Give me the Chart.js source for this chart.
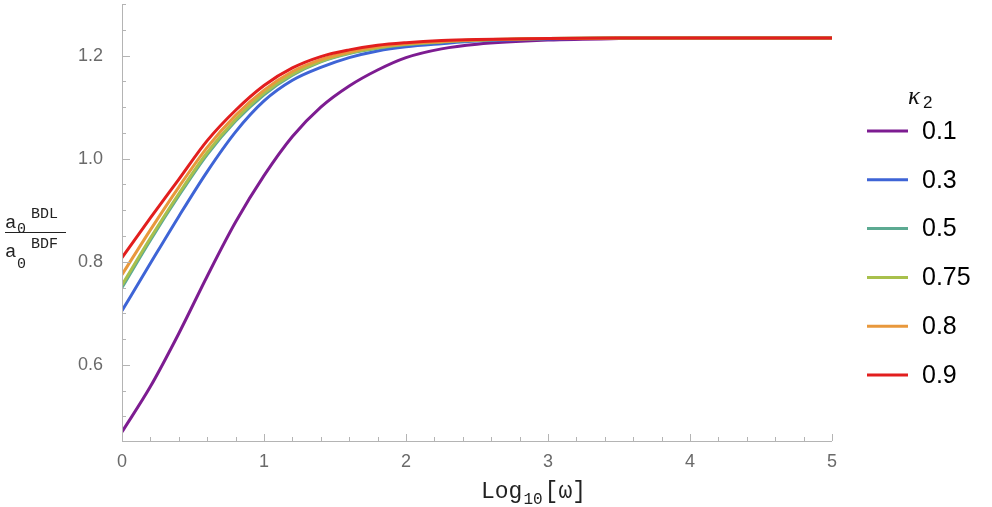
<!DOCTYPE html>
<html>
<head>
<meta charset="utf-8">
<script src="https://cdn.jsdelivr.net/npm/chart.js@4/dist/chart.umd.min.js"></script>
<style>
html,body{margin:0;padding:0;background:#fff;}
#wrap{width:992px;height:507px;}
</style>
</head>
<body>
<div id="wrap"><canvas id="c" width="992" height="507"></canvas></div>
<script>
// ---- data ----
const logOmega = [0, 0.2, 0.4, 0.6, 0.8, 1.0, 1.2, 1.4, 1.6, 1.8, 2.0, 2.25, 2.5, 3.0, 3.5, 4.0, 5.0];
const kappaLabels = ["0.1", "0.3", "0.5", "0.75", "0.8", "0.9"];
const ratio_k01  = [0.470, 0.558, 0.661, 0.772, 0.877, 0.967, 1.043, 1.100, 1.141, 1.172, 1.196, 1.213, 1.222, 1.230, 1.233, 1.234, 1.234];
const ratio_k03  = [0.705, 0.797, 0.888, 0.975, 1.052, 1.112, 1.152, 1.177, 1.196, 1.209, 1.217, 1.223, 1.228, 1.232, 1.234, 1.234, 1.234];
const ratio_k05  = [0.750, 0.842, 0.928, 1.008, 1.073, 1.124, 1.162, 1.188, 1.204, 1.214, 1.221, 1.226, 1.229, 1.233, 1.234, 1.234, 1.234];
const ratio_k075 = [0.755, 0.846, 0.932, 1.012, 1.076, 1.127, 1.164, 1.189, 1.205, 1.215, 1.222, 1.227, 1.230, 1.233, 1.234, 1.234, 1.234];
const ratio_k08  = [0.775, 0.862, 0.945, 1.022, 1.084, 1.133, 1.169, 1.192, 1.207, 1.217, 1.223, 1.227, 1.230, 1.233, 1.234, 1.234, 1.234];
const ratio_k09  = [0.808, 0.885, 0.960, 1.035, 1.094, 1.142, 1.176, 1.198, 1.211, 1.220, 1.225, 1.229, 1.231, 1.233, 1.234, 1.234, 1.234];
const xTicks = [0, 1, 2, 3, 4, 5];
const yTicks = [0.6, 0.8, 1.0, 1.2];
const seriesValues = [ratio_k01, ratio_k03, ratio_k05, ratio_k075, ratio_k08, ratio_k09];
const seriesColors = ["rgb(125,28,145)", "rgb(62,100,214)", "rgb(92,170,146)", "rgb(168,192,76)", "rgb(232,152,60)", "rgb(226,30,30)"];

const AXIS_COLOR = "#b4b4b4";
const TICK_TEXT = "#6a6a6a";

const datasets = seriesValues.map((vals, i) => ({
  label: kappaLabels[i],
  data: vals.map((v, j) => ({x: logOmega[j], y: v})),
  borderColor: seriesColors[i],
  backgroundColor: seriesColors[i],
  borderWidth: 3,
  pointRadius: 0,
  cubicInterpolationMode: "monotone",
  fill: false,
  order: seriesValues.length - i
}));

const frame = {
  id: "frame",
  afterDatasetsDraw(chart) {
    const ctx = chart.ctx, a = chart.chartArea;
    const xs = chart.scales.x, ys = chart.scales.y;
    ctx.save();
    ctx.strokeStyle = AXIS_COLOR;
    ctx.lineWidth = 1;
    ctx.beginPath();
    ctx.moveTo(a.left + 0.5, a.top); ctx.lineTo(a.left + 0.5, a.bottom + 0.5);
    ctx.moveTo(a.left, a.bottom + 0.5); ctx.lineTo(a.right, a.bottom + 0.5);
    for (let k = 0; k <= 25; k++) {
      const v = k * 0.2;
      const px = Math.round(xs.getPixelForValue(v)) + 0.5;
      const len = (k % 5 === 0) ? 7 : 4;
      ctx.moveTo(px, a.bottom); ctx.lineTo(px, a.bottom - len);
    }
    for (let k = 10; k <= 26; k++) {
      const v = k * 0.05;
      if (v < ys.min - 1e-9 || v > ys.max + 1e-9) continue;
      const py = Math.round(ys.getPixelForValue(v)) + 0.5;
      const len = (k % 4 === 0) ? 8 : 4;
      ctx.moveTo(a.left, py); ctx.lineTo(a.left + len, py);
    }
    ctx.stroke();

    // y-axis title (fraction)
    ctx.fillStyle = "#222";
    ctx.textBaseline = "alphabetic";
    ctx.textAlign = "left";
    const big = "19px 'Liberation Mono', monospace";
    const small = "15px 'Liberation Mono', monospace";
    ctx.font = big; ctx.fillText("a", 5, 228);
    ctx.font = small; ctx.fillText("0", 17, 233); ctx.fillText("BDL", 31, 218);
    ctx.font = big; ctx.fillText("a", 5, 257);
    ctx.font = small; ctx.fillText("0", 17, 268); ctx.fillText("BDF", 31, 248);
    ctx.strokeStyle = "#222";
    ctx.beginPath(); ctx.moveTo(5, 232.5); ctx.lineTo(66, 232.5); ctx.stroke();

    // x-axis title
    const f1 = "23px 'Liberation Mono', monospace", f2 = "16px 'Liberation Mono', monospace";
    ctx.font = f1; const w1 = ctx.measureText("Log").width;
    ctx.font = f2; const w2 = ctx.measureText("10").width;
    const sx = 481;
    ctx.font = f1; ctx.fillText("Log", sx, 498);
    ctx.font = f2; ctx.fillText("10", sx + w1 + 1, 504);
    ctx.font = f1; ctx.fillText("[ω]", sx + w1 + w2 + 3, 498);

    // legend
    ctx.font = "italic 25px 'Liberation Serif', serif";
    ctx.fillStyle = "#111";
    ctx.fillText("κ", 908, 104);
    ctx.font = "17px 'Liberation Sans', sans-serif";
    ctx.fillText("2", 923, 108);
    chart.data.datasets.forEach((ds, i) => {
      const y = 131 + i * 48.8;
      ctx.strokeStyle = ds.borderColor;
      ctx.lineWidth = 3;
      ctx.beginPath(); ctx.moveTo(867, y); ctx.lineTo(908, y); ctx.stroke();
      ctx.fillStyle = "#000";
      ctx.font = "25px 'Liberation Sans', sans-serif";
      ctx.textBaseline = "middle";
      ctx.fillText(ds.label, 922, y + 1);
      ctx.textBaseline = "alphabetic";
    });
    ctx.restore();
  }
};

new Chart(document.getElementById("c"), {
  type: "line",
  data: { datasets },
  options: {
    responsive: false,
    animation: false,
    events: [],
    layout: { padding: { top: 4, right: 160, left: 0, bottom: 0 } },
    plugins: { legend: { display: false }, tooltip: { enabled: false } },
    scales: {
      x: {
        type: "linear", min: 0, max: 5,
        grid: { display: false, drawTicks: false },
        border: { display: false },
        afterBuildTicks: s => { s.ticks = xTicks.map(v => ({ value: v })); },
        afterFit: s => { s.height = 66; s.paddingLeft = 0; s.paddingRight = 0; s.paddingTop = 0; s.paddingBottom = 0; },
        ticks: { padding: 10, color: TICK_TEXT, font: { family: "'Liberation Sans', sans-serif", size: 18 },
                 callback: v => String(v), maxRotation: 0 }
      },
      y: {
        type: "linear", min: 0.4524, max: 1.30,
        grid: { display: false, drawTicks: false },
        border: { display: false },
        afterBuildTicks: s => { s.ticks = yTicks.map(v => ({ value: v })); },
        afterFit: s => { s.width = 122; s.paddingTop = 0; s.paddingBottom = 0; s.paddingLeft = 0; s.paddingRight = 0; },
        ticks: { padding: 19, color: TICK_TEXT, font: { family: "'Liberation Sans', sans-serif", size: 18 },
                 callback: v => v.toFixed(1) }
      }
    }
  },
  plugins: [frame]
});
</script>
</body>
</html>
